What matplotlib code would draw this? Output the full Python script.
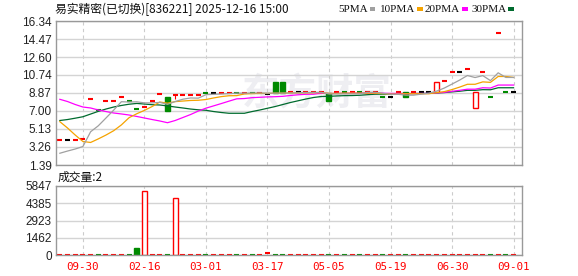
import matplotlib.pyplot as plt
from matplotlib.patches import Rectangle

plt.rcParams['font.family'] = ['Liberation Sans', 'Noto Sans CJK SC', 'DejaVu Sans']

# 日K数据
opens = [3.96, 3.96, 3.96, 4.10, 8.21, 7.07, 8.03, 8.03, 8.48, 8.03,
         7.20, 7.44, 8.03, 8.73, 8.48, 8.66, 8.66, 8.66, 8.66, 8.83,
         8.83, 8.83, 8.87, 8.87, 8.87, 8.87, 8.87, 8.73, 10.04, 10.04,
         8.94, 8.94, 8.94, 8.94, 8.94, 8.90, 8.94, 8.94, 8.94, 8.94,
         8.94, 8.94, 8.42, 8.42, 8.94, 8.94, 8.94, 8.94, 8.94, 8.94,
         10.08, 11.01, 11.01, 11.32, 7.28, 11.05, 8.42, 15.06, 8.94, 8.94]
closes = [3.96, 3.96, 3.96, 4.10, 8.21, 7.07, 8.03, 8.03, 8.48, 8.03,
          7.20, 7.44, 8.03, 8.73, 7.03, 8.66, 8.66, 8.66, 8.66, 8.83,
          8.83, 8.83, 8.87, 8.87, 8.87, 8.87, 8.87, 8.73, 8.90, 8.90,
          8.94, 8.94, 8.94, 8.94, 8.94, 8.07, 8.94, 8.94, 8.94, 8.94,
          8.94, 8.94, 8.42, 8.42, 8.94, 8.49, 8.94, 8.94, 8.94, 10.00,
          10.08, 11.01, 11.01, 11.32, 8.94, 11.05, 8.42, 15.06, 8.94, 8.94]
lows = [3.96, 3.96, 3.96, 4.10, 8.21, 7.07, 8.03, 8.03, 8.48, 8.03,
        7.20, 7.44, 8.03, 8.73, 7.03, 8.21, 8.66, 8.66, 8.66, 8.83,
        8.83, 8.83, 8.87, 8.87, 8.87, 8.87, 8.87, 8.73, 8.90, 8.90,
        8.94, 8.94, 8.94, 8.94, 8.94, 8.07, 8.94, 8.94, 8.94, 8.94,
        8.94, 8.94, 8.42, 8.42, 8.94, 8.49, 8.94, 8.94, 8.94, 8.94,
        10.08, 11.01, 11.01, 11.32, 7.28, 11.05, 8.42, 15.06, 8.94, 8.94]
# r=涨 g=跌 k=平
tone = list('rkrrrgrrrggrrrgrrrrgkrrgrgrkggrkrrrgrgrgrrgkrgrkkrrrkrrrgrgk')
volumes = [0, 0, 0, 0, 0, 0, 0, 0, 0, 0,
           620, 5420, 0, 0, 0, 4800, 0, 0, 0, 0,
           0, 0, 0, 0, 0, 0, 0, 190, 0, 0,
           0, 0, 0, 0, 0, 0, 0, 0, 0, 0,
           0, 0, 0, 0, 0, 0, 0, 0, 0, 0,
           0, 0, 0, 0, 0, 0, 0, 0, 0, 2]

ma5 = [2.61, 2.84, 3.05, 3.31, 4.84, 5.46, 6.27, 7.09, 7.96, 7.93,
       7.95, 7.84, 7.84, 7.89, 7.69, 7.98, 8.22, 8.35, 8.33, 8.69,
       8.73, 8.76, 8.80, 8.85, 8.85, 8.86, 8.87, 8.84, 8.85, 8.85,
       8.87, 8.88, 8.92, 8.93, 8.94, 8.77, 8.77, 8.77, 8.77, 8.77,
       8.94, 8.94, 8.84, 8.73, 8.73, 8.64, 8.64, 8.75, 8.85, 9.06,
       9.38, 9.79, 10.21, 10.68, 10.47, 10.67, 10.15, 10.96, 10.48, 10.48]
ma10 = [5.89, 5.23, 4.50, 3.83, 3.73, 4.10, 4.50, 4.95, 5.55, 6.30,
        6.71, 7.06, 7.46, 7.93, 7.81, 7.97, 8.03, 8.09, 8.11, 8.19,
        8.35, 8.49, 8.58, 8.59, 8.77, 8.80, 8.82, 8.82, 8.85, 8.85,
        8.87, 8.88, 8.88, 8.89, 8.90, 8.82, 8.82, 8.85, 8.85, 8.85,
        8.85, 8.85, 8.80, 8.75, 8.75, 8.79, 8.79, 8.79, 8.79, 8.90,
        9.01, 9.22, 9.48, 9.77, 9.77, 10.02, 9.97, 10.58, 10.58, 10.48]
ma20 = [8.21, 7.98, 7.67, 7.41, 7.31, 7.10, 6.94, 6.79, 6.69, 6.58,
        6.43, 6.27, 6.11, 5.96, 5.78, 6.01, 6.32, 6.63, 6.99, 7.29,
        7.53, 7.77, 8.02, 8.26, 8.29, 8.38, 8.42, 8.46, 8.48, 8.52,
        8.61, 8.68, 8.73, 8.74, 8.84, 8.81, 8.82, 8.83, 8.85, 8.85,
        8.86, 8.86, 8.84, 8.82, 8.82, 8.80, 8.81, 8.82, 8.82, 8.88,
        8.93, 9.04, 9.14, 9.26, 9.26, 9.41, 9.38, 9.69, 9.69, 9.69]
ma30 = [6.01, 6.11, 6.25, 6.40, 6.68, 6.96, 7.20, 7.41, 7.57, 7.70,
        7.78, 7.72, 7.65, 7.62, 7.52, 7.41, 7.31, 7.20, 7.12, 7.07,
        6.94, 6.84, 6.76, 6.76, 6.76, 6.94, 7.10, 7.28, 7.46, 7.67,
        7.88, 8.06, 8.24, 8.40, 8.50, 8.52, 8.56, 8.59, 8.60, 8.63,
        8.69, 8.74, 8.75, 8.74, 8.81, 8.80, 8.81, 8.82, 8.83, 8.87,
        8.91, 8.98, 9.05, 9.14, 9.14, 9.21, 9.20, 9.41, 9.41, 9.41]

price_ticks = [1.39, 3.26, 5.13, 7.00, 8.87, 10.74, 12.60, 14.47, 16.34]
vol_ticks = [0, 1462, 2923, 4385, 5847]
tick_pos = [3, 11, 19, 27, 35, 43, 51, 59]
tick_labels = ['09-30', '02-16', '03-01', '03-17', '05-05', '05-19', '06-30', '09-01']

RED = '#ff0000'
GREEN = '#008a00'
colors = {'r': RED, 'g': GREEN, 'k': '#000000'}
w = 0.65

fig = plt.figure(figsize=(5.78, 2.76), dpi=100)
ax = fig.add_axes([56/578, 1-165/276, 466/578, 144/276])
av = fig.add_axes([56/578, 1-255/276, 466/578, 69/276])

# 水印
ax.text(0.56, 0.49, '东方财富', transform=ax.transAxes, fontsize=27, fontweight='bold',
        color='#eeeef2', ha='center', va='center', family=['Noto Sans CJK SC'], zorder=0)

for a in (ax, av):
    a.set_xlim(-0.5, 60.1)
    a.set_xticks(tick_pos)
    a.yaxis.grid(True, color='#d4d4d4', lw=1, ls='-')
    a.xaxis.grid(True, color='#cccccc', lw=0.8, ls=(0, (3, 3)))
    a.set_axisbelow(True)
    a.tick_params(length=0, pad=3, labelsize=8.5, colors='#222222')
    for s in a.spines.values():
        s.set_color('#999999')
        s.set_linewidth(1)

ax.set_ylim(1.39, 16.34)
ax.set_yticks(price_ticks)
ax.set_yticklabels([f'{v:.2f}' for v in price_ticks])
ax.set_xticklabels([])

for i in range(len(closes)):
    o, c, lo = opens[i], closes[i], lows[i]
    hi = max(o, c)
    col = colors[tone[i]]
    if lo < min(o, c) or hi > max(o, c):
        ax.vlines(i, lo, hi, color=col, lw=0.8, zorder=2)
    if o == c:
        ax.hlines(c, i - w/2, i + w/2, color=col, lw=1.5, zorder=2)
    elif c > o:
        ax.add_patch(Rectangle((i - w/2, o), w, c - o, facecolor='white',
                               edgecolor=RED, lw=1, zorder=2))
    else:
        ax.add_patch(Rectangle((i - w/2, c), w, o - c, facecolor=GREEN,
                               edgecolor=GREEN, lw=1, zorder=2))

x = list(range(len(closes)))
ax.plot(x, ma30, color='#006b2e', lw=0.9, zorder=3)
ax.plot(x, ma20, color='#ff00ff', lw=0.9, zorder=3)
ax.plot(x, ma10, color='#f5a300', lw=0.9, zorder=3)
ax.plot(x, ma5, color='#a0a0a0', lw=0.9, zorder=3)

# 成交量
av.set_ylim(0, 5847)
av.set_yticks(vol_ticks)
av.set_yticklabels([str(v) for v in vol_ticks])
av.set_xticklabels(tick_labels, family=['DejaVu Sans Mono'], fontsize=7.8, color=RED)
av.tick_params(axis='x', pad=5)
for i, v in enumerate(volumes):
    col = GREEN if tone[i] == 'g' else RED
    if v < 300:
        av.hlines(max(v, 40), i - w/2, i + w/2, color=col, lw=1.5, zorder=2)
    elif tone[i] == 'g':
        av.add_patch(Rectangle((i - w/2, 0), w, v, facecolor=GREEN, edgecolor=GREEN, lw=1, zorder=2))
    else:
        av.add_patch(Rectangle((i - w/2, 0), w, v, facecolor='white', edgecolor=RED, lw=1, zorder=2))

# 标题和图例
fig.text(55/578, 1-9/276, '易实精密(已切换)[836221] 2025-12-16 15:00', fontsize=8.5,
         va='center', ha='left', color='#111111',
         family=['Noto Sans CJK SC', 'DejaVu Sans'])
legend = [('5PMA', '#a0a0a0', 338), ('10PMA', '#f5a300', 380),
          ('20PMA', '#ff00ff', 425), ('30PMA', '#006b2e', 471)]
fig.canvas.draw()
for name, col, px in legend:
    t = fig.text(px/578, 1-9/276, name, fontsize=8, va='center', ha='left',
                 color='#111111', family=['Liberation Serif'])
    bb = t.get_window_extent(renderer=fig.canvas.get_renderer())
    fig.add_artist(Rectangle(((bb.x1 + 2)/578, 1-10.5/276), 5.5/578, 3/276,
                             transform=fig.transFigure, facecolor=col, edgecolor='none'))
fig.text(58/578, 1-177/276, '成交量:2', fontsize=8.5, va='center', ha='left',
         color='#111111', family=['Noto Sans CJK SC', 'DejaVu Sans'])

fig.savefig('out.png', dpi=100)
